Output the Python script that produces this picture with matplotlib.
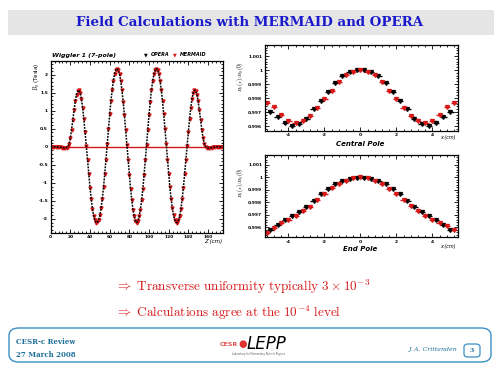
import matplotlib
matplotlib.use("Agg")
import matplotlib.pyplot as plt
from matplotlib.patches import FancyBboxPatch, Rectangle
from matplotlib.ticker import MultipleLocator
import numpy as np

plt.rcParams['mathtext.fontset'] = 'cm'

# ---------------- datos: campo del wiggler a lo largo de z
z_cm = np.arange(0, 175.01, 1.25)
by_tesla = [
    0.00, 0.00, 0.00, 0.00, 0.00, 0.00, -0.01, -0.01, -0.01, -0.02,
    -0.02, -0.03, -0.03, -0.02, 0.01, 0.08, 0.25, 0.48, 0.75, 1.02,
    1.27, 1.45, 1.55, 1.57, 1.50, 1.33, 1.08, 0.76, 0.40, 0.02,
    -0.37, -0.76, -1.13, -1.45, -1.72, -1.92, -2.04, -2.10, -2.09, -2.03,
    -1.90, -1.70, -1.44, -1.12, -0.75, -0.35, 0.07, 0.49, 0.90, 1.27,
    1.58, 1.84, 2.03, 2.14, 2.17, 2.13, 2.02, 1.83, 1.57, 1.25,
    0.88, 0.47, 0.05, -0.37, -0.78, -1.16, -1.48, -1.74, -1.93, -2.05,
    -2.10,
    -2.05, -1.93, -1.74, -1.48, -1.16, -0.78, -0.37, 0.05, 0.47, 0.88,
    1.25, 1.57, 1.83, 2.02, 2.13, 2.17, 2.14, 2.03, 1.84, 1.58,
    1.27, 0.90, 0.49, 0.07, -0.35, -0.75, -1.12, -1.44, -1.70, -1.90,
    -2.03, -2.09, -2.10, -2.04, -1.92, -1.72, -1.45, -1.13, -0.76, -0.37,
    0.02, 0.40, 0.76, 1.08, 1.33, 1.50, 1.57, 1.55, 1.45, 1.27,
    1.02, 0.75, 0.48, 0.25, 0.08, 0.01, -0.02, -0.03, -0.03, -0.02,
    -0.02, -0.01, -0.01, -0.01, 0.00, 0.00, 0.00, 0.00, 0.00, 0.00,
]

# ---------------- polo central (uniformidad transversal)
x_mermaid = np.round(np.arange(-5.2, 5.21, 0.4), 2)
x_opera = np.round(np.arange(-5.0, 5.01, 0.4), 2)
central_mermaid = [0.99767, 0.99733, 0.99679, 0.99636, 0.99624, 0.99638, 0.99674,
                   0.99731, 0.99793, 0.99852, 0.99914, 0.99962, 0.99988, 1.00000,
                   0.99988, 0.99962, 0.99914, 0.99852, 0.99793, 0.99731, 0.99674,
                   0.99638, 0.99624, 0.99636, 0.99679, 0.99733, 0.99767]
central_opera = [0.99702, 0.99662, 0.99619, 0.99600, 0.99614, 0.99652, 0.99719,
                 0.99781, 0.99845, 0.99910, 0.99957, 0.99986, 0.99998, 0.99998,
                 0.99986, 0.99957, 0.99910, 0.99845, 0.99781, 0.99719, 0.99652,
                 0.99614, 0.99600, 0.99619, 0.99662, 0.99702]

# ---------------- polo extremo
end_mermaid = [0.99552, 0.99595, 0.99632, 0.99659, 0.99688, 0.99725, 0.99765,
               0.99819, 0.99867, 0.99915, 0.99947, 0.99973, 0.99992, 1.00000,
               0.99992, 0.99973, 0.99947, 0.99909, 0.99867, 0.99819, 0.99773,
               0.99725, 0.99688, 0.99659, 0.99632, 0.99605, 0.99573]
end_opera = [0.99573, 0.99613, 0.99653, 0.99685, 0.99720, 0.99765, 0.99813,
             0.99867, 0.99909, 0.99947, 0.99968, 0.99987, 0.99997, 0.99997,
             0.99987, 0.99968, 0.99947, 0.99909, 0.99867, 0.99813, 0.99765,
             0.99720, 0.99685, 0.99653, 0.99613, 0.99573]

ROJO = '#d81818'
AZUL = '#1a1acc'
TEAL = '#1f6f9a'

W, H = 500.0, 375.0


def fx(x):
    return x / W


def fy(y):
    return 1 - y / H


def ejes(fig, x0, y0, x1, y1):
    ax = fig.add_axes([fx(x0), fy(y1), (x1 - x0) / W, (y1 - y0) / H])
    ax.tick_params(which='both', direction='in', top=True, right=True,
                   labelsize=3.2, width=0.6, pad=2)
    ax.tick_params(which='major', length=3)
    ax.tick_params(which='minor', length=1.5)
    for s in ax.spines.values():
        s.set_linewidth(0.9)
    return ax


fig = plt.figure(figsize=(5, 3.75), dpi=100)

# barra de titulo
fig.patches.append(Rectangle((fx(8), fy(35)), 486 / W, 25 / H, transform=fig.transFigure,
                             facecolor='#e5e5e5', edgecolor='none'))
fig.text(fx(250), fy(22.5), 'Field Calculations with MERMAID and OPERA', ha='center',
         va='center', color=AZUL, fontsize=9.6, fontweight='bold', family='DejaVu Serif')

# ---------------- grafico principal
ax = ejes(fig, 50.7, 60.7, 222.7, 232.7)
ax.axhline(0, color=ROJO, lw=1.0, zorder=1)
ax.plot(z_cm, by_tesla, linestyle='none', marker='v', ms=2.2, color=ROJO, zorder=2)
ax.plot(z_cm, by_tesla, linestyle=(0, (1.2, 0.8)), lw=1.1, color='black', zorder=3)
ax.set_xlim(0, 175)
ax.set_ylim(-2.38, 2.39)
ax.xaxis.set_minor_locator(MultipleLocator(4))
ax.yaxis.set_minor_locator(MultipleLocator(0.1))
ax.set_xticks(np.arange(0, 161, 20))
ax.set_xticklabels([str(v) for v in range(0, 161, 20)])
ax.set_yticks([-2, -1.5, -1, -0.5, 0, 0.5, 1, 1.5, 2])
ax.set_yticklabels(['-2', '-1.5', '-1', '-0.5', '0', '0.5', '1', '1.5', '2'])

fig.text(fx(52), fy(55), 'Wiggler 1 (7-pole)', fontsize=4.5, style='italic', fontweight='bold',
         ha='left', va='center')
fig.text(fx(146), fy(55), '\u25bc', fontsize=3.5, color='black', ha='center', va='center')
fig.text(fx(151), fy(55), 'OPERA', fontsize=3.5, style='italic', fontweight='bold',
         ha='left', va='center')
fig.text(fx(175), fy(55), '\u25bc', fontsize=3.5, color=ROJO, ha='center', va='center')
fig.text(fx(180), fy(55), 'MERMAID', fontsize=3.5, style='italic', fontweight='bold',
         ha='left', va='center')
fig.text(fx(37), fy(62), r'$B_y$ (Tesla)', rotation=90, fontsize=4, ha='center', va='top')
fig.text(fx(222), fy(242), 'Z (cm)', fontsize=4, style='italic', ha='right', va='center')

# ---------------- polo central
ax2 = ejes(fig, 265, 45, 457.7, 130.7)
ax2.errorbar(x_opera, central_opera, xerr=0.18, fmt='v', ms=2.8, color='black',
             elinewidth=1.0, capsize=0)
ax2.errorbar(x_mermaid, central_mermaid, xerr=0.18, fmt='v', ms=2.8, color=ROJO,
             elinewidth=1.0, capsize=0)
ax2.set_xlim(-5.3, 5.4)
ax2.set_ylim(0.99567, 1.00179)
ax2.xaxis.set_minor_locator(MultipleLocator(0.4))
ax2.set_yticks([0.996, 0.997, 0.998, 0.999, 1.0, 1.001])
ax2.set_yticklabels(['0.996', '0.997', '0.998', '0.999', '1', '1.001'])
ax2.yaxis.set_minor_locator(MultipleLocator(0.0002))
ax2.set_xticks([-4, -2, 0, 2, 4])
ax2.set_xticklabels(['-4', '-2', '0', '2', '4'])
fig.text(fx(360), fy(144), 'Central Pole', fontsize=5, style='italic', fontweight='bold',
         ha='center', va='center')
fig.text(fx(456), fy(138), 'x (cm)', fontsize=3.5, style='italic', ha='right', va='center')
fig.text(fx(240), fy(62), r'$B_y(x)/B_y(0)$', rotation=90, fontsize=3.8, ha='center', va='top')

# ---------------- polo extremo
ax3 = ejes(fig, 265, 155, 457.7, 237)
ax3.errorbar(x_opera, end_opera, xerr=0.18, fmt='v', ms=2.8, color='black',
             elinewidth=1.0, capsize=0)
ax3.errorbar(x_mermaid, end_mermaid, xerr=0.18, fmt='v', ms=2.8, color=ROJO,
             elinewidth=1.0, capsize=0)
ax3.set_xlim(-5.3, 5.4)
ax3.set_ylim(0.9952, 1.00179)
ax3.xaxis.set_minor_locator(MultipleLocator(0.4))
ax3.set_yticks([0.996, 0.997, 0.998, 0.999, 1.0, 1.001])
ax3.set_yticklabels(['0.996', '0.997', '0.998', '0.999', '1', '1.001'])
ax3.yaxis.set_minor_locator(MultipleLocator(0.0002))
ax3.set_xticks([-4, -2, 0, 2, 4])
ax3.set_xticklabels(['-4', '-2', '0', '2', '4'])
fig.text(fx(360), fy(249), 'End Pole', fontsize=5, style='italic', fontweight='bold',
         ha='center', va='center')
fig.text(fx(456), fy(247), 'x (cm)', fontsize=3.5, style='italic', ha='right', va='center')
fig.text(fx(240), fy(168), r'$B_y(x)/B_y(0)$', rotation=90, fontsize=3.8, ha='center', va='top')

for a in (ax, ax2, ax3):
    for lab in a.get_xticklabels() + a.get_yticklabels():
        lab.set_fontweight('bold')

# ---------------- conclusiones
fig.text(fx(115), fy(287), r'$\Rightarrow\ \mathrm{Transverse\ uniformity\ typically}\ 3\times10^{-3}$',
         color=ROJO, fontsize=9.5, ha='left', va='center')
fig.text(fx(115), fy(313), r'$\Rightarrow\ \mathrm{Calculations\ agree\ at\ the}\ 10^{-4}\ \mathrm{level}$',
         color=ROJO, fontsize=9.5, ha='left', va='center')

# ---------------- pie de pagina
fig.patches.append(FancyBboxPatch((fx(9), fy(362)), 482 / W, 34 / H,
                                  boxstyle='round,pad=0,rounding_size=0.02',
                                  transform=fig.transFigure, facecolor='none',
                                  edgecolor='#3a8fc4', lw=1.0))
fig.text(fx(16), fy(342), 'CESR-c Review', fontsize=5, color=TEAL, fontweight='bold',
         family='DejaVu Serif', ha='left', va='center')
fig.text(fx(16), fy(355), '27 March 2008', fontsize=5, color=TEAL, fontweight='bold',
         family='DejaVu Serif', ha='left', va='center')
fig.text(fx(238), fy(344), 'CESR', fontsize=4.5, color='#e05050', fontweight='bold',
         ha='right', va='center')
fig.text(fx(243), fy(344), '\u25cf', fontsize=7, color='#e03030', ha='center', va='center')
fig.text(fx(247), fy(344), 'LEPP', fontsize=12, style='italic', color='black',
         ha='left', va='center')
fig.text(fx(258), fy(354), 'Laboratory for Elementary-Particle Physics', fontsize=1.8,
         color='#555555', ha='center', va='center')
fig.text(fx(457), fy(349), 'J. A. Crittenden', fontsize=4.5, color=TEAL, style='italic',
         family='DejaVu Serif', ha='right', va='center')
fig.patches.append(FancyBboxPatch((fx(464), fy(357)), 16 / W, 13 / H,
                                  boxstyle='round,pad=0,rounding_size=0.008',
                                  transform=fig.transFigure, facecolor='none',
                                  edgecolor='#3a8fc4', lw=0.9))
fig.text(fx(472), fy(350.5), '3', fontsize=4.5, color=TEAL, fontweight='bold',
         family='DejaVu Serif', ha='center', va='center')

fig.savefig('out.png', dpi=100)
